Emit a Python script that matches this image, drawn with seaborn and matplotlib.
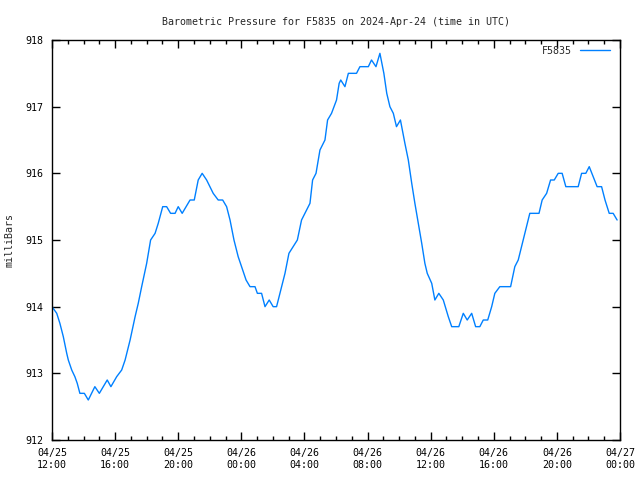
import matplotlib
matplotlib.use("Agg")
import matplotlib.pyplot as plt
from matplotlib.ticker import MultipleLocator
import seaborn as sns
import pandas as pd

# minutes after 2024-04-25 12:00 UTC
minutes = [0, 18, 30, 43, 56, 62, 75, 87, 96, 106, 123, 138, 163, 180, 210, 224,
           246, 265, 278, 297, 316, 328, 341, 360, 375, 392, 404, 421, 436, 451,
           468, 480, 495, 525, 541, 556, 571, 588, 613, 632, 649, 664, 677, 692,
           708, 721, 738, 753, 772, 781, 797, 810, 826, 841, 854, 870, 886, 901,
           917, 933, 949, 968, 981, 991, 1004, 1019, 1038, 1048, 1063, 1082, 1092,
           1098, 1114, 1127, 1158, 1171, 1203, 1215, 1232, 1247, 1262, 1273, 1285,
           1298, 1310, 1325, 1342, 1355, 1368, 1380, 1393, 1406, 1418, 1427, 1444,
           1456, 1471, 1488, 1507, 1520, 1547, 1564, 1579, 1596, 1611, 1627, 1640,
           1657, 1672, 1684, 1703, 1744, 1760, 1773, 1792, 1817, 1852, 1864, 1881,
           1896, 1910, 1925, 1940, 1954, 2001, 2014, 2030, 2043, 2058, 2073, 2090,
           2103, 2119, 2134, 2149]
pressure = [914.0, 913.9, 913.75, 913.55, 913.3, 913.2, 913.05, 912.95, 912.85, 912.7,
            912.7, 912.6, 912.8, 912.7, 912.9, 912.8, 912.95, 913.05, 913.2, 913.5,
            913.85, 914.05, 914.3, 914.65, 915.0, 915.1, 915.25, 915.5, 915.5, 915.4,
            915.4, 915.5, 915.4, 915.6, 915.6, 915.9, 916.0, 915.9, 915.7, 915.6,
            915.6, 915.5, 915.3, 915.0, 914.75, 914.6, 914.4, 914.3, 914.3, 914.2,
            914.2, 914.0, 914.1, 914.0, 914.0, 914.25, 914.5, 914.8, 914.9, 915.0,
            915.3, 915.45, 915.55, 915.9, 916.0, 916.35, 916.5, 916.8, 916.9, 917.1,
            917.35, 917.4, 917.3, 917.5, 917.5, 917.6, 917.6, 917.7, 917.6, 917.8,
            917.5, 917.2, 917.0, 916.9, 916.7, 916.8, 916.45, 916.2, 915.85, 915.55,
            915.25, 914.95, 914.65, 914.5, 914.35, 914.1, 914.2, 914.1, 913.85, 913.7,
            913.7, 913.9, 913.8, 913.9, 913.7, 913.7, 913.8, 913.8, 914.0, 914.2,
            914.3, 914.3, 914.6, 914.7, 915.0, 915.4, 915.4, 915.6, 915.7, 915.9,
            915.9, 916.0, 916.0, 915.8, 915.8, 916.0, 916.0, 916.1, 915.95, 915.8,
            915.8, 915.6, 915.4, 915.4, 915.3]

station = "F5835"
title = "Barometric Pressure for F5835 on 2024-Apr-24 (time in UTC)"
ylabel = "milliBars"
xtick_hours = [0, 4, 8, 12, 16, 20, 24, 28, 32, 36]
xtick_labels = ["04/25\n12:00", "04/25\n16:00", "04/25\n20:00", "04/26\n00:00",
                "04/26\n04:00", "04/26\n08:00", "04/26\n12:00", "04/26\n16:00",
                "04/26\n20:00", "04/27\n00:00"]
yticks = [912, 913, 914, 915, 916, 917, 918]

df = pd.DataFrame({"hours": [m / 60 for m in minutes], "pressure": pressure})

sns.set_style("white")
plt.rcParams["font.family"] = ["DejaVu Sans Mono"]
plt.rcParams["font.size"] = 7.2

fig = plt.figure(figsize=(6.4, 4.8), dpi=100)
ax = fig.add_axes([52 / 640, 40 / 480, 568 / 640, 400 / 480])

sns.lineplot(data=df, x="hours", y="pressure", ax=ax, color="#0080ff",
             linewidth=1.0, label=station)

ax.set_xlim(0, 36)
ax.set_ylim(912, 918)
ax.set_xticks(xtick_hours)
ax.set_xticklabels(xtick_labels)
ax.xaxis.set_minor_locator(MultipleLocator(1))
ax.set_yticks(yticks)
ax.set_yticklabels([str(v) for v in yticks])

ax.tick_params(axis="both", which="both", direction="in", top=True, right=True,
               bottom=True, left=True, color="black", labelsize=7.2,
               labelcolor="black")
ax.tick_params(axis="both", which="major", length=6, width=1)
ax.tick_params(axis="x", which="minor", length=3, width=1)
ax.tick_params(axis="x", which="major", pad=6)
ax.tick_params(axis="y", which="major", pad=6)

for s in ax.spines.values():
    s.set_color("black")
    s.set_linewidth(1)

ax.set_xlabel("")
ax.set_ylabel("")
fig.text(10 / 640, 0.5, ylabel, rotation=90, ha="center", va="center",
         fontsize=7.2)
ax.set_title(title, fontsize=7.2, pad=11)

leg = ax.legend(loc="upper right", frameon=False, markerfirst=False,
                fontsize=7.2, handlelength=3, borderaxespad=0.2,
                bbox_to_anchor=(0.993, 1.0))

fig.savefig("out.png", dpi=100)
